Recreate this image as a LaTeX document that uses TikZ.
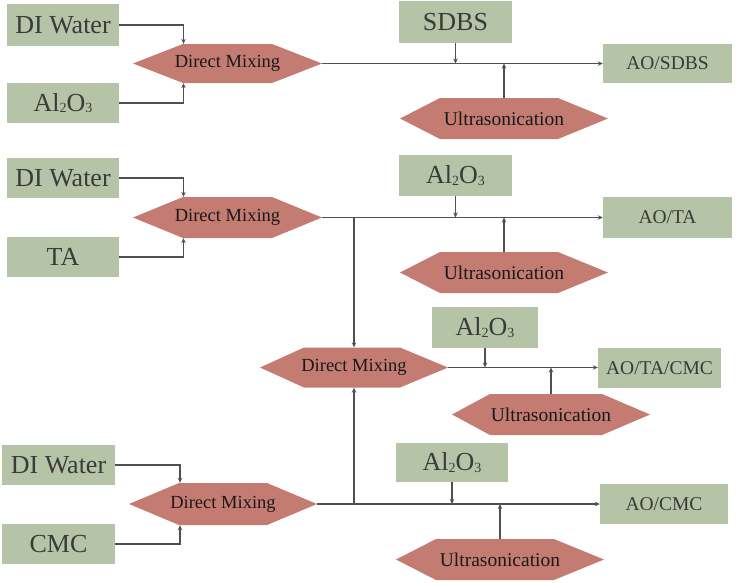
\documentclass[tikz,border=0pt]{standalone}
\usepackage{fontspec}
\setmainfont{Liberation Serif}
\usetikzlibrary{arrows.meta}
\definecolor{boxgreen}{RGB}{181,196,167}
\definecolor{hexred}{RGB}{196,124,114}
\definecolor{linegray}{RGB}{80,80,80}
\definecolor{labelgray}{RGB}{58,58,58}
\tikzset{
  inbox/.style={rectangle, fill=boxgreen, inner sep=0pt, text=labelgray, font=\fontsize{26}{30}\selectfont},
  outbox/.style={rectangle, fill=boxgreen, inner sep=0pt, text=labelgray, font=\fontsize{19.5}{23}\selectfont},
  hexa/.style 2 args={rectangle, inner sep=0pt, text=black!90,
    path picture={\fill[hexred] (path picture bounding box.west)
      -- ([xshift=#1]path picture bounding box.north west)
      -- ([xshift=-#2]path picture bounding box.north east)
      -- (path picture bounding box.east)
      -- ([xshift=-#2]path picture bounding box.south east)
      -- ([xshift=#1]path picture bounding box.south west) -- cycle;}},
  mixfont/.style={font=\fontsize{18.5}{22}\selectfont},
  ultfont/.style={font=\fontsize{19.5}{23}\selectfont},
  conn/.style={draw=linegray, line width=1.3pt, -{Stealth[length=5pt,width=4.5pt]}}
}
\newcommand{\mysub}[1]{\raisebox{-1.2pt}{\fontsize{14}{14}\selectfont #1}}
\newcommand{\alo}{Al\mysub{2}O\mysub{3}}
\begin{document}
\begin{tikzpicture}[x=1pt,y=-1pt]
\useasboundingbox (0,0) rectangle (749,582);
% ---------- Block 1 ----------
\node[inbox, minimum width=112, minimum height=42] (w1) at (63,25) {DI Water};
\node[inbox, minimum width=112, minimum height=40] (a1) at (63,103) {\alo};
\node[hexa={50}{50}, mixfont, minimum width=189, minimum height=39] (m1) at (227.5,63.5) {Direct Mixing};
\node[inbox, minimum width=113, minimum height=42] (s1) at (455.5,22) {SDBS};
\node[outbox, minimum width=129, minimum height=39] (o1) at (667.5,63.5) {AO/SDBS};
\node[hexa={40}{50}, ultfont, minimum width=208, minimum height=41] (u1) at (504,118.5) {Ultrasonication};
\draw[conn] (w1.east) -| ([xshift=-44]m1.north);
\draw[conn] (a1.east) -| ([xshift=-44]m1.south);
\draw[conn] (m1.east) -- (o1.west);
\draw[conn] (s1.south) -- (s1.south |- m1.east);
\draw[conn] (u1.north) -- (u1.north |- m1.east);
% ---------- Block 2 ----------
\node[inbox, minimum width=112, minimum height=40] (w2) at (63,178) {DI Water};
\node[inbox, minimum width=112, minimum height=40] (t2) at (63,257) {TA};
\node[hexa={50}{50}, mixfont, minimum width=189, minimum height=41] (m2) at (227.5,217.5) {Direct Mixing};
\node[inbox, minimum width=113, minimum height=41] (s2) at (455.5,175.5) {\alo};
\node[outbox, minimum width=129, minimum height=41] (o2) at (667.5,217.5) {AO/TA};
\node[hexa={40}{50}, ultfont, minimum width=208, minimum height=41] (u2) at (504,272.5) {Ultrasonication};
\draw[conn] (w2.east) -| ([xshift=-44]m2.north);
\draw[conn] (t2.east) -| ([xshift=-44]m2.south);
\draw[conn] (m2.east) -- (o2.west);
\draw[conn] (s2.south) -- (s2.south |- m2.east);
\draw[conn] (u2.north) -- (u2.north |- m2.east);
% ---------- Block 3 ----------
\node[hexa={44}{48}, mixfont, minimum width=188, minimum height=40] (m3) at (354,367.5) {Direct Mixing};
\node[inbox, minimum width=106, minimum height=41] (s3) at (485,327.5) {\alo};
\node[outbox, minimum width=123, minimum height=40] (o3) at (659.5,368) {AO/TA/CMC};
\node[hexa={38}{48}, ultfont, minimum width=198, minimum height=41] (u3) at (551,414.5) {Ultrasonication};
\draw[conn] (m3.east) -- (o3.west |- m3.east);
\draw[conn] (s3.south) -- (s3.south |- m3.east);
\draw[conn] (u3.north) -- (u3.north |- m3.east);
\draw[conn] (m3.north |- m2.east) -- (m3.north);
% ---------- Block 4 ----------
\node[inbox, minimum width=113, minimum height=40] (w4) at (58.5,465) {DI Water};
\node[inbox, minimum width=113, minimum height=40] (c4) at (58.5,544) {CMC};
\node[hexa={50}{50}, mixfont, minimum width=188, minimum height=42] (m4) at (223,504) {Direct Mixing};
\node[inbox, minimum width=112, minimum height=39] (s4) at (452,462.5) {\alo};
\node[outbox, minimum width=128, minimum height=40] (o4) at (664,504) {AO/CMC};
\node[hexa={40}{50}, ultfont, minimum width=208, minimum height=41] (u4) at (500,559.5) {Ultrasonication};
\draw[conn] (w4.east) -| ([xshift=-43]m4.north);
\draw[conn] (c4.east) -| ([xshift=-43]m4.south);
\draw[conn] (m4.east) -- (o4.west);
\draw[conn] (s4.south) -- (s4.south |- m4.east);
\draw[conn] (u4.north) -- (u4.north |- m4.east);
\draw[conn] (m3.south |- m4.east) -- (m3.south);
\end{tikzpicture}
\end{document}
